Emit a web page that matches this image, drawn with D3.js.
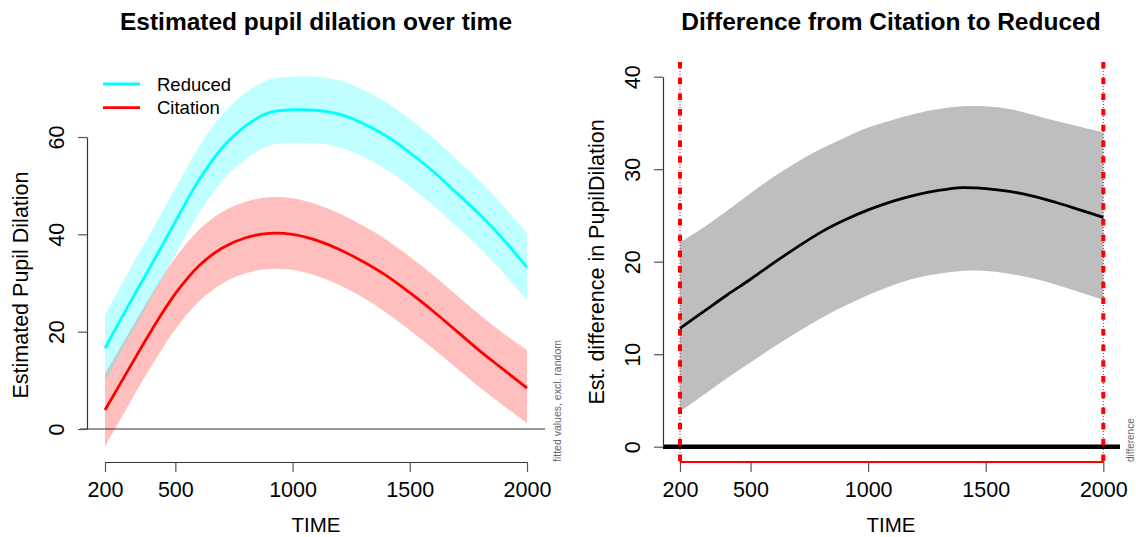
<!DOCTYPE html>
<html><head><meta charset="utf-8">
<script src="https://cdn.jsdelivr.net/npm/d3@7"></script>
<style>body{margin:0;background:#fff}svg{display:block}text{font-family:"Liberation Sans",Arial,sans-serif}</style>
</head><body>
<svg id="c" width="1136" height="537"></svg>
<script>
const time = [200,300,400,500,600,700,800,900,1000,1100,1200,1300,1400,1500,1600,1700,1800,1900,2000];
const reducedFit   = [16.6,25.4,33.9,42.6,51.1,57.8,62.3,65.0,65.6,65.5,64.7,62.8,60.2,56.8,52.9,48.5,44.0,38.9,33.2];
const reducedUpper = [23.4,32.3,40.8,49.4,57.9,64.6,69.1,71.8,72.4,72.4,71.6,69.7,67.1,63.7,59.8,55.4,50.9,45.8,40.2];
const reducedLower = [9.8,18.5,27.0,35.8,44.3,51.0,55.5,58.2,58.8,58.7,57.9,56.0,53.3,49.9,46.0,41.6,37.1,32.0,26.5];
const citationFit   = [3.9,12.2,20.4,27.8,33.5,37.2,39.3,40.2,40.0,38.8,36.9,34.4,31.5,28.0,24.2,20.1,16.0,12.2,8.4];
const citationUpper = [11.3,19.6,27.8,35.2,40.9,44.6,46.7,47.6,47.4,46.2,44.3,41.8,38.9,35.4,31.6,27.5,23.4,19.6,16.2];
const citationLower = [-3.6,4.9,13.1,20.5,26.2,29.9,32.0,32.9,32.7,31.5,29.6,27.0,23.9,20.3,16.5,12.5,8.5,4.8,1.2];
const diffFit   = [12.8,14.6,16.4,18.1,19.9,21.6,23.2,24.5,25.6,26.5,27.2,27.7,28.0,27.9,27.6,27.1,26.4,25.6,24.8];
const diffUpper = [22.1,23.7,25.5,27.4,29.2,30.8,32.2,33.4,34.5,35.3,36.0,36.5,36.8,36.8,36.5,35.9,35.2,34.6,34.0];
const diffLower = [3.8,5.6,7.4,9.1,10.8,12.4,13.9,15.2,16.4,17.4,18.2,18.7,19.0,19.0,18.7,18.2,17.5,16.7,15.9];
const xTicks = [200,500,1000,1500,2000];
const yTicksLeft = [0,20,40,60];
const yTicksRight = [0,10,20,30,40];
const legendLabels = ["Reduced","Citation"];
const sigRange = [200,2000];

const svg = d3.select("#c");
const FS = 21.5;
const CURVE = d3.curveCatmullRom.alpha(0.5);

function rows(lo, hi){ return time.map((t,i)=>({t, lo:lo[i], hi:hi[i]})); }
function pts(v){ return time.map((t,i)=>({t, v:v[i]})); }
function styleAxis(a){
  a.select(".domain").attr("stroke","#333").attr("stroke-width",1.2);
  a.selectAll(".tick line").attr("stroke","#555").attr("stroke-width",1.2);
  a.selectAll("text").attr("font-size",FS).attr("fill","#000").attr("font-family","Liberation Sans, Arial, sans-serif");
}

// ---------- LEFT PANEL ----------
const xL = d3.scaleLinear().domain([200,2000]).range([105,527]);
const yL = d3.scaleLinear().domain([0,60]).range([429,137]);
const gL = svg.append("g");
const areaL = d3.area().x(d=>xL(d.t)).y0(d=>yL(d.lo)).y1(d=>yL(d.hi)).curve(CURVE);
const lineL = d3.line().x(d=>xL(d.t)).y(d=>yL(d.v)).curve(CURVE);
gL.append("path").datum(rows(citationLower,citationUpper)).attr("d",areaL).attr("fill","rgba(255,0,0,0.25)");
gL.append("path").datum(rows(reducedLower,reducedUpper)).attr("d",areaL).attr("fill","rgba(0,255,255,0.25)");
gL.append("path").datum(pts(reducedFit)).attr("d",lineL).attr("fill","none").attr("stroke","#00ffff").attr("stroke-width",2.8);
gL.append("path").datum(pts(citationFit)).attr("d",lineL).attr("fill","none").attr("stroke","#ff0000").attr("stroke-width",2.8);
gL.append("line").attr("x1",80).attr("x2",545).attr("y1",yL(0)).attr("y2",yL(0)).attr("stroke","#333").attr("stroke-width",1.2);
const axXL = gL.append("g").attr("transform","translate(0,462)").call(d3.axisBottom(xL).tickValues(xTicks).tickSize(10).tickSizeOuter(0).tickFormat(d3.format("d")));
const axYL = gL.append("g").attr("transform","translate(87,0)").call(d3.axisLeft(yL).tickValues(yTicksLeft).tickSize(9).tickSizeOuter(0));
styleAxis(axXL); styleAxis(axYL);
axXL.selectAll(".tick text").attr("y",20).attr("dy","0.71em");
axYL.selectAll(".tick text").attr("x",0).attr("y",0).attr("dy",0).attr("text-anchor","middle").attr("transform","translate(-23,0) rotate(-90)");
const legColors = ["#00ffff","#ff0000"];
legendLabels.forEach((l,i)=>{
  const y = 84 + i*23.7;
  gL.append("line").attr("x1",103).attr("x2",140).attr("y1",y).attr("y2",y).attr("stroke",legColors[i]).attr("stroke-width",2.8);
  gL.append("text").attr("x",157).attr("y",y+6.5).attr("font-size",18.5).text(l);
});
svg.append("text").attr("x",316).attr("y",30).attr("text-anchor","middle").attr("font-size",24.5).attr("font-weight","bold").text("Estimated pupil dilation over time");
svg.append("text").attr("x",316).attr("y",532).attr("text-anchor","middle").attr("font-size",20.5).text("TIME");
svg.append("text").attr("transform","translate(28,285) rotate(-90)").attr("text-anchor","middle").attr("font-size",FS).text("Estimated Pupil Dilation");
svg.append("text").attr("transform","translate(561,462) rotate(-90)").attr("text-anchor","start").attr("font-size",10.5).attr("fill","#666").text("fitted values, excl. random");

// ---------- RIGHT PANEL ----------
const xR = d3.scaleLinear().domain([200,2000]).range([680,1103.3]);
const yR = d3.scaleLinear().domain([0,40]).range([446.7,76.7]);
const gR = svg.append("g");
const areaR = d3.area().x(d=>xR(d.t)).y0(d=>yR(d.lo)).y1(d=>yR(d.hi)).curve(CURVE);
const lineR = d3.line().x(d=>xR(d.t)).y(d=>yR(d.v)).curve(CURVE);
gR.append("path").datum(rows(diffLower,diffUpper)).attr("d",areaR).attr("fill","#bebebe");
gR.append("path").datum(pts(diffFit)).attr("d",lineR).attr("fill","none").attr("stroke","#000").attr("stroke-width",2.8);
gR.append("line").attr("x1",663).attr("x2",1120).attr("y1",yR(0)).attr("y2",yR(0)).attr("stroke","#000").attr("stroke-width",4.5);
const axXR = gR.append("g").attr("transform","translate(0,462)").call(d3.axisBottom(xR).tickValues(xTicks).tickSize(10).tickSizeOuter(0).tickFormat(d3.format("d")));
const axYR = gR.append("g").attr("transform","translate(663,0)").call(d3.axisLeft(yR).tickValues(yTicksRight).tickSize(9).tickSizeOuter(0));
styleAxis(axXR); styleAxis(axYR);
axXR.selectAll(".tick text").attr("y",20).attr("dy","0.71em");
axYR.selectAll(".tick text").attr("x",0).attr("y",0).attr("dy",0).attr("text-anchor","middle").attr("transform","translate(-23,0) rotate(-90)");
gR.append("line").attr("x1",xR(sigRange[0])).attr("x2",xR(sigRange[1])).attr("y1",462).attr("y2",462).attr("stroke","#ff0000").attr("stroke-width",2);
sigRange.forEach(v=>{
  gR.append("line").attr("x1",xR(v)).attr("x2",xR(v)).attr("y1",62).attr("y2",464).attr("stroke","#ff0000").attr("stroke-width",1).attr("stroke-dasharray","1,2");
  gR.append("line").attr("x1",xR(v)).attr("x2",xR(v)).attr("y1",62).attr("y2",464).attr("stroke","#ff0000").attr("stroke-width",4).attr("stroke-dasharray","6.5,9.2");
});
svg.append("text").attr("x",891).attr("y",30).attr("text-anchor","middle").attr("font-size",24.5).attr("font-weight","bold").text("Difference from Citation to Reduced");
svg.append("text").attr("x",891).attr("y",532).attr("text-anchor","middle").attr("font-size",20.5).text("TIME");
svg.append("text").attr("transform","translate(604,262) rotate(-90)").attr("text-anchor","middle").attr("font-size",FS).text("Est. difference in PupilDilation");
svg.append("text").attr("transform","translate(1134,462) rotate(-90)").attr("text-anchor","start").attr("font-size",10).attr("fill","#666").text("difference");
</script>
</body></html>
